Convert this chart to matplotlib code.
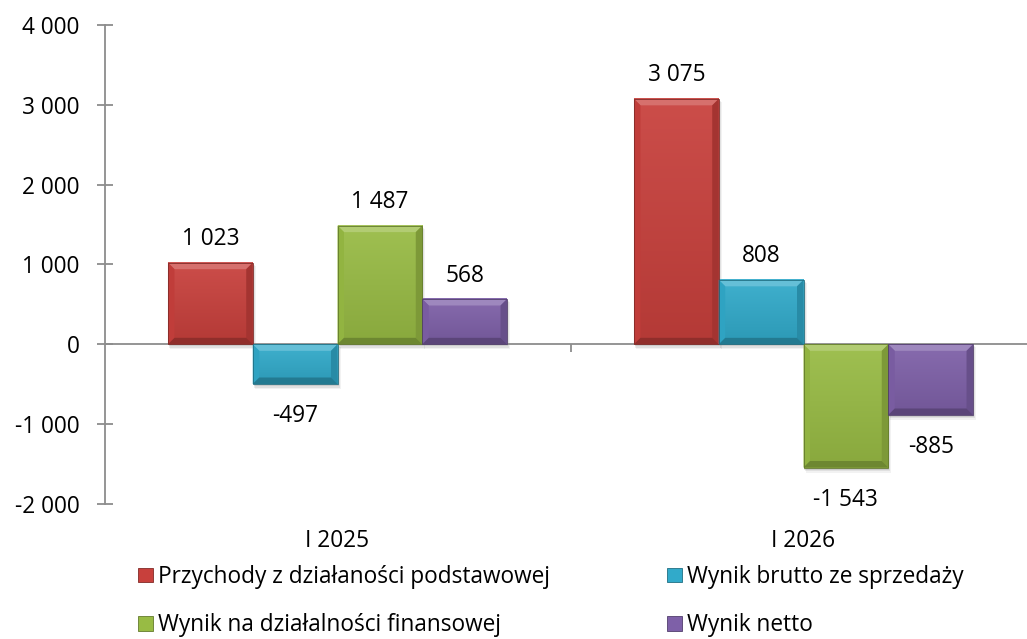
import matplotlib
matplotlib.use('Agg')
import matplotlib.pyplot as plt
import numpy as np
from matplotlib.patches import Polygon, Rectangle, Patch
from matplotlib.colors import to_rgb

plt.rcParams['font.family'] = ['Open Sans', 'DejaVu Sans']

# ---- data ----
categories = ['I 2025', 'I 2026']
series_names = ['Przychody z działaności podstawowej',
                'Wynik brutto ze sprzedaży',
                'Wynik na działalności finansowej',
                'Wynik netto']
przychody = [1023, 3075]
wynik_brutto = [-497, 808]
wynik_finansowy = [1487, -1543]
wynik_netto = [568, -885]
y_ticks = [-2000, -1000, 0, 1000, 2000, 3000, 4000]

series_values = [przychody, wynik_brutto, wynik_finansowy, wynik_netto]
colors = ['#C8403C', '#31AACA', '#98BB44', '#7E60A8']

FS = 16.3
W, H = 1027, 639
fig = plt.figure(figsize=(W / 100, H / 100), dpi=100)
left_px, right_px, top_px, bot_px = 104.5, 1027, 25, 504
ax = fig.add_axes([left_px / W, 1 - bot_px / H, (right_px - left_px) / W, (bot_px - top_px) / H])
ax.set_xlim(-0.5, 1.5 - 9.5 / 466)
ax.set_ylim(-2000, 4000)

def fmt(v):
    s = f"{abs(v):,}".replace(',', ' ')
    return ('-' if v < 0 else '') + s

def mix(c, t, a):
    c = np.array(to_rgb(c)); t = np.array(to_rgb(t))
    return tuple(c * (1 - a) + t * a)

def add_bevel(ax, bar, base, bev=6.5):
    x0 = bar.get_x(); x1 = x0 + bar.get_width()
    y0 = bar.get_y(); y1 = y0 + bar.get_height()
    ylo, yhi = min(y0, y1), max(y0, y1)
    T = ax.transData
    (px0, pylo), (px1, pyhi) = T.transform([(x0, ylo), (x1, yhi)])
    inv = T.inverted()
    b = min(bev, (pyhi - pylo) / 2.5)
    def P(pts, col, z=4):
        d = inv.transform(pts)
        ax.add_patch(Polygon(d, closed=True, facecolor=col, edgecolor='none', zorder=z))
    # soft shadow
    for off, al in [(5, 0.05), (3.5, 0.07), (2, 0.09)]:
        sh = inv.transform([(px0 + off * 0.4, pylo - off), (px1 + off * 0.6, pyhi - off * 0.6)])
        ax.add_patch(Rectangle(sh[0], sh[1][0] - sh[0][0], sh[1][1] - sh[0][1],
                               facecolor='#000000', alpha=al, edgecolor='none', zorder=2))
    # smooth face gradient
    grad = np.linspace(0, 1, 64)[:, None]
    top_c = np.array(mix(base, 'white', 0.07))
    bot_c = np.array(mix(base, 'black', 0.10))
    img = (top_c[None, None, :] * (1 - grad[:, :, None]) + bot_c[None, None, :] * grad[:, :, None])
    d = inv.transform([(px0, pylo), (px1, pyhi)])
    ax.imshow(img, extent=(d[0][0], d[1][0], d[0][1], d[1][1]), origin='upper',
              aspect='auto', zorder=3.5, interpolation='bilinear')
    # bevel edges
    P([(px0, pyhi), (px1, pyhi), (px1 - b, pyhi - b), (px0 + b, pyhi - b)], mix(base, 'white', 0.25))
    P([(px0, pylo), (px0, pyhi), (px0 + b, pyhi - b), (px0 + b, pylo + b)], mix(base, 'black', 0.04))
    P([(px1, pylo), (px1, pyhi), (px1 - b, pyhi - b), (px1 - b, pylo + b)], mix(base, 'black', 0.18))
    P([(px0, pylo), (px1, pylo), (px1 - b, pylo + b), (px0 + b, pylo + b)], mix(base, 'black', 0.28))
    ax.add_patch(Rectangle(d[0], d[1][0] - d[0][0], d[1][1] - d[0][1], facecolor='none',
                           edgecolor=mix(base, 'black', 0.35), linewidth=0.6, zorder=5))

w = 0.1819
xc = np.arange(len(categories))
handles = []
for i, (vals, col) in enumerate(zip(series_values, colors)):
    x = xc + (i - 1.5) * w
    bars = ax.bar(x, vals, w, color=col, edgecolor='none', zorder=3)
    for bar, v in zip(bars, vals):
        add_bevel(ax, bar, col)
        if v >= 0:
            ax.annotate(fmt(v), (bar.get_x() + w / 2, v), xytext=(0, 12.5), textcoords='offset points',
                        ha='center', va='baseline', fontsize=FS, color='#000000')
        else:
            ax.annotate(fmt(v), (bar.get_x() + w / 2, v), xytext=(0, -14.5), textcoords='offset points',
                        ha='center', va='top', fontsize=FS, color='#000000')
    handles.append(Patch(facecolor=col, edgecolor=mix(col, 'black', 0.35), linewidth=0.6))

ax.set_xlim(-0.5, 1.5 - 9.5 / 466)
ax.set_ylim(-2000, 4000)

# axes styling
axis_col = '#8C8C8C'
for s in ['top', 'right', 'bottom']:
    ax.spines[s].set_visible(False)
ax.spines['left'].set_color(axis_col)
ax.spines['left'].set_linewidth(1.3)
ax.axhline(0, color=axis_col, linewidth=1.3, zorder=2.5)
ax.set_yticks(y_ticks)
ax.set_yticklabels([fmt(t) for t in y_ticks], fontsize=FS)
ax.tick_params(axis='y', direction='inout', length=11.5, width=1.3, color=axis_col, pad=12)
ax.set_xticks([])
# category divider tick
dv = ax.transData.transform((0.5, 0))
inv = ax.transData.inverted()
dd = inv.transform([(dv[0], dv[1]), (dv[0], dv[1] - 8)])
ax.plot(dd[:, 0], dd[:, 1], color=axis_col, linewidth=1.3, zorder=2.5, solid_capstyle='butt')

for xi, c in zip(xc, categories):
    ax.annotate(c, (xi, -2000), xytext=(0, -18), textcoords='offset points',
                ha='center', va='top', fontsize=FS, color='#000000')

# legend (two columns placed manually)
em = FS * 100 / 72
kw = dict(loc='upper left', frameon=False, handlelength=15 / em, handleheight=14 / em,
          handletextpad=0.22, labelspacing=1.08, fontsize=FS, borderaxespad=0, borderpad=0)
fig.legend([handles[0], handles[2]], [series_names[0], series_names[2]],
           bbox_to_anchor=(138 / W, 1 - 565 / H), **kw)
fig.legend([handles[1], handles[3]], [series_names[1], series_names[3]],
           bbox_to_anchor=(667 / W, 1 - 565 / H), **kw)

fig.savefig('out.png', dpi=100)
